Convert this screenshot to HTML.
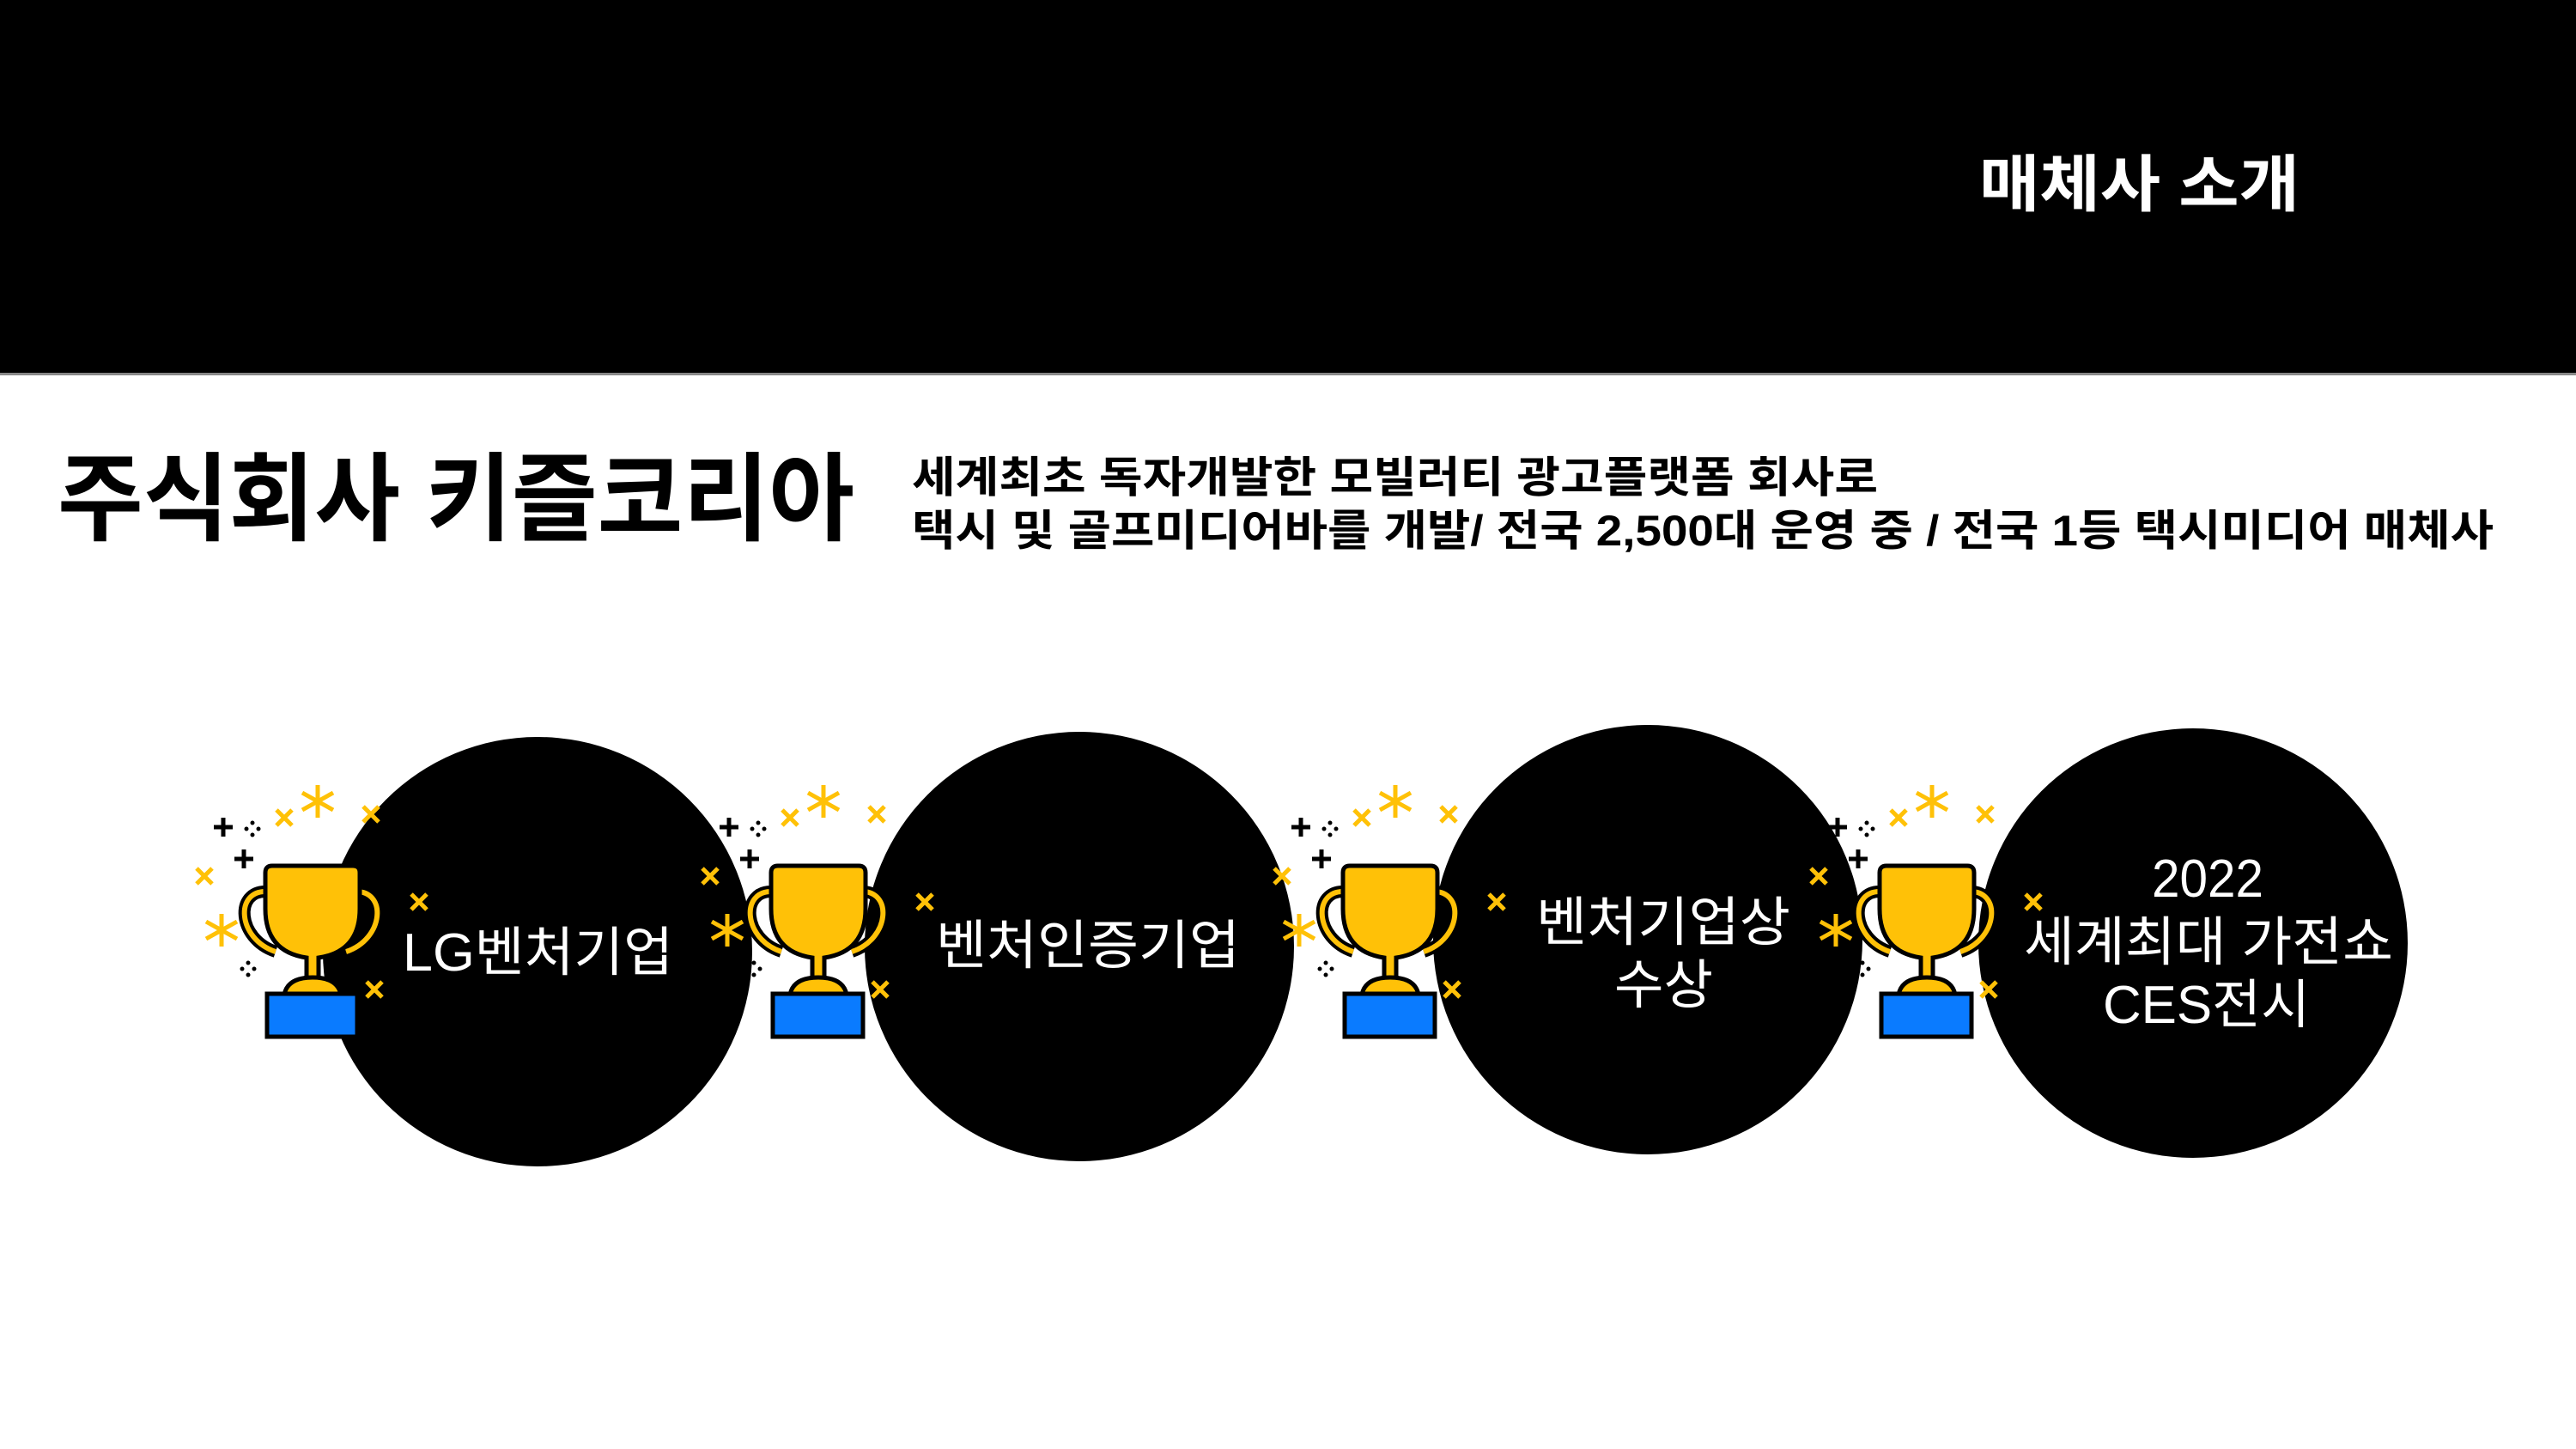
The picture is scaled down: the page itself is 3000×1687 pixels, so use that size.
<!DOCTYPE html>
<html><head><meta charset="utf-8"><style>html,body{margin:0;padding:0;background:#fff}svg{display:block}</style></head>
<body>
<svg width="3000" height="1687" viewBox="0 0 3000 1687" xmlns="http://www.w3.org/2000/svg" font-family="'Liberation Sans','Noto Sans CJK KR',sans-serif">
<defs>
<g id="tr">
  <path d="M30 30 C-8 28 -5 85 40 100" fill="none" stroke="#000" stroke-width="14"/>
  <path d="M30 30 C-8 28 -5 85 40 100" fill="none" stroke="#FFC107" stroke-width="6"/>
  <path d="M132 30 C170 28 167 85 122 100" fill="none" stroke="#000" stroke-width="14"/>
  <path d="M132 30 C170 28 167 85 122 100" fill="none" stroke="#FFC107" stroke-width="6"/>
  <path d="M28 8 Q28 0 36 0 L130 0 Q138 0 138 8 L138 50 Q138 100 90 107 L90 135 L76 135 L76 107 Q28 100 28 50 Z" fill="#FFC107" stroke="#000" stroke-width="5"/>
  <path d="M50 150 Q54 130 83 130 Q112 130 116 150 Z" fill="#FFC107" stroke="#000" stroke-width="5"/>
  <rect x="30" y="149" width="105" height="50" fill="#0A7BFF" stroke="#000" stroke-width="5"/>
  <g stroke="#000" stroke-width="5">
    <path d="M-32 -45h22M-21 -56v22M-8 -8h22M3 -19v22"/>
  </g>
  <g fill="#000"><circle cx="13" cy="-50" r="2.5"/><circle cx="13" cy="-36" r="2.5"/><circle cx="6" cy="-43" r="2.5"/><circle cx="20" cy="-43" r="2.5"/>
  <circle cx="8" cy="113" r="2.5"/><circle cx="8" cy="127" r="2.5"/><circle cx="1" cy="120" r="2.5"/><circle cx="15" cy="120" r="2.5"/></g>
  <g stroke="#FFC107" stroke-width="5">
    <path d="M41 -65l18 18M59 -65l-18 18"/>
    <path d="M142 -69l18 18M160 -69l-18 18"/>
    <path d="M-52 3l18 18M-34 3l-18 18"/>
    <path d="M198 33l18 18M216 33l-18 18"/>
    <path d="M146 135l18 18M164 135l-18 18"/>
    <path d="M89 -94v38M71 -85l36 20M107 -85l-36 20"/>
    <path d="M-23 56v38M-41 65l36 20M-5 65l-36 20"/>
  </g>
</g>
</defs>
<rect x="0" y="0" width="3000" height="434" fill="#000"/>
<rect x="0" y="434" width="3000" height="3" fill="#888"/>
<text x="2305" y="240" font-size="72" font-weight="bold" fill="#fff" textLength="373" lengthAdjust="spacingAndGlyphs">매체사 소개</text>
<text x="67" y="620" font-size="112" font-weight="bold" fill="#000" textLength="928" lengthAdjust="spacingAndGlyphs">주식회사 키즐코리아</text>
<text x="1062" y="573" font-size="50" font-weight="bold" fill="#000" textLength="1125" lengthAdjust="spacingAndGlyphs">세계최초 독자개발한  모빌러티 광고플랫폼 회사로</text>
<text x="1062" y="635" font-size="50" font-weight="bold" fill="#000" textLength="1842" lengthAdjust="spacingAndGlyphs">택시 및 골프미디어바를 개발/ 전국 2,500대 운영 중 / 전국 1등 택시미디어 매체사</text>

<circle cx="626" cy="1108" r="250" fill="#000"/>
<circle cx="1257" cy="1102" r="250" fill="#000"/>
<circle cx="1919" cy="1094" r="250" fill="#000"/>
<circle cx="2554" cy="1098" r="250" fill="#000"/>

<use href="#tr" x="281" y="1008"/>
<use href="#tr" x="870" y="1008"/>
<use href="#tr" x="1536" y="1008"/>
<use href="#tr" x="2161" y="1008"/>

<g fill="#fff" font-size="62">
<text x="469" y="1130" textLength="315" lengthAdjust="spacingAndGlyphs">LG벤처기업</text>
<text x="1090" y="1122" textLength="354" lengthAdjust="spacingAndGlyphs">벤처인증기업</text>
<text x="1789" y="1095" textLength="296" lengthAdjust="spacingAndGlyphs">벤처기업상</text>
<text x="1880" y="1168" textLength="115" lengthAdjust="spacingAndGlyphs">수상</text>
<text x="2506" y="1044" textLength="130" lengthAdjust="spacingAndGlyphs">2022</text>
<text x="2357" y="1118" textLength="430" lengthAdjust="spacingAndGlyphs">세계최대 가전쇼</text>
<text x="2449" y="1191" textLength="241" lengthAdjust="spacingAndGlyphs">CES전시</text>
</g>
</svg>
</body></html>
